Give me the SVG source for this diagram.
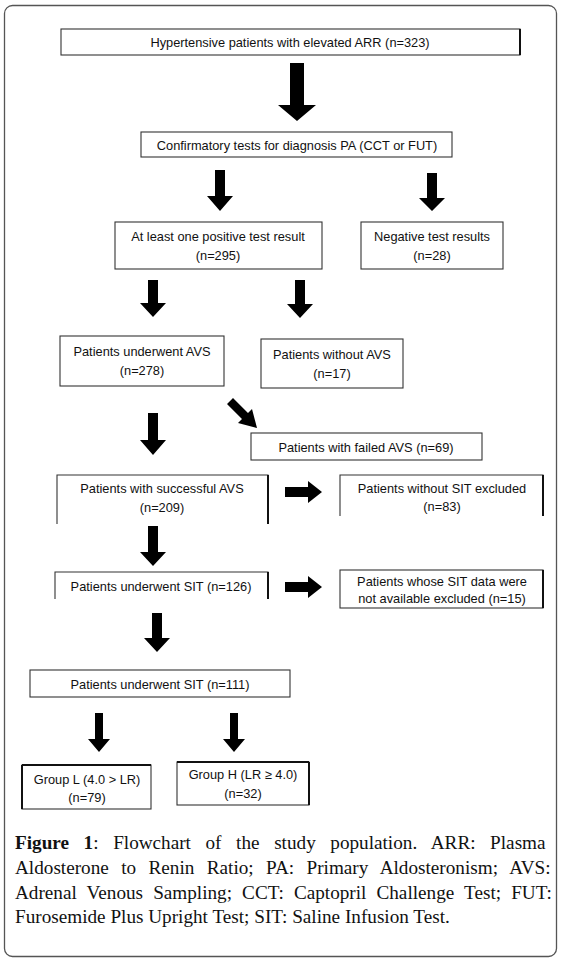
<svg xmlns="http://www.w3.org/2000/svg" width="563" height="963" viewBox="0 0 563 963">
<defs>
<style>
.frame{fill:#fff;stroke:#555;stroke-width:1.3}
.box{fill:#fff;stroke:#333;stroke-width:1.1}
.open{fill:none;stroke:#333;stroke-width:1.1}
.sh{stroke:#111;stroke-width:2;fill:none}
.t{font-family:"Liberation Sans","Arial",sans-serif;font-size:12.8px;fill:#111;text-anchor:middle}
.arr{fill:#000}
.cap{font-family:"Liberation Serif","Times New Roman",serif;font-size:19.2px;fill:#111}
</style>
</defs>
<rect class="frame" x="4.5" y="5.5" width="552" height="951" rx="8"/>

<g id="n1"><rect class="box" x="61" y="29" width="459" height="26"/><line class="sh" x1="520" y1="29" x2="520" y2="55"/><text class="t" x="290" y="47">Hypertensive patients with elevated ARR (n=323)</text></g>
<g id="n2"><rect class="box" x="141" y="132" width="311" height="25"/><text class="t" x="297" y="149.5">Confirmatory tests for diagnosis PA (CCT or FUT)</text></g>
<g id="n3"><rect class="box" x="115" y="222" width="207" height="47"/><text class="t" x="218" y="241">At least one positive test result</text><text class="t" x="218" y="260">(n=295)</text></g>
<g id="n4"><rect class="box" x="361" y="222" width="142" height="47"/><text class="t" x="432" y="241">Negative test results</text><text class="t" x="432" y="260">(n=28)</text></g>
<g id="n5"><rect class="box" x="60" y="336" width="164" height="50"/><text class="t" x="142" y="356">Patients underwent AVS</text><text class="t" x="142" y="375">(n=278)</text></g>
<g id="n6"><rect class="box" x="261" y="339" width="142" height="49"/><text class="t" x="332" y="359">Patients without AVS</text><text class="t" x="332" y="378">(n=17)</text></g>
<g id="n7"><rect class="box" x="251" y="433" width="231" height="27"/><text class="t" x="366" y="451.5">Patients with failed AVS (n=69)</text></g>
<g id="n8"><path class="open" d="M57,524 V475 H268 V524"/><line class="sh" x1="268" y1="475" x2="268" y2="524"/><text class="t" x="162" y="493">Patients with successful AVS</text><text class="t" x="162" y="512">(n=209)</text></g>
<g id="n9"><path class="open" d="M340,516 V475 H543 V516"/><line class="sh" x1="543" y1="475" x2="543" y2="516"/><text class="t" x="442" y="493">Patients without SIT excluded</text><text class="t" x="442" y="511">(n=83)</text></g>
<g id="n10"><path class="open" d="M55,599 V572 H268 V599"/><line class="sh" x1="268" y1="572" x2="268" y2="599"/><text class="t" x="161" y="591">Patients underwent SIT (n=126)</text></g>
<g id="n11"><rect class="box" x="340" y="570" width="203" height="38"/><line class="sh" x1="543" y1="570" x2="543" y2="608"/><text class="t" x="442" y="586">Patients whose SIT data were</text><text class="t" x="442" y="603">not available excluded (n=15)</text></g>
<g id="n12"><rect class="box" x="30" y="670" width="260" height="27"/><text class="t" x="160" y="688.5">Patients underwent SIT (n=111)</text></g>
<g id="n13"><rect class="box" x="22" y="765" width="129" height="44"/><line class="sh" x1="22" y1="765" x2="151" y2="765"/><line class="sh" x1="22" y1="765" x2="22" y2="809"/><text class="t" x="87" y="784">Group L (4.0 &gt; LR)</text><text class="t" x="87" y="802">(n=79)</text></g>
<g id="n14"><rect class="box" x="177" y="762" width="132" height="43"/><line class="sh" x1="177" y1="762" x2="309" y2="762"/><line class="sh" x1="309" y1="762" x2="309" y2="805"/><text class="t" x="243" y="779">Group H (LR ≥  4.0)</text><text class="t" x="243" y="798">(n=32)</text></g>

<g id="connectors">
<path class="arr" d="M290,63 H304 V105 H316 L297,121 L278,105 H290 Z"/>
<path class="arr" d="M215,170 H225 V196 H233 L220,211 L207,196 H215 Z"/>
<path class="arr" d="M427,173 H437 V198 H445 L432,211 L419,198 H427 Z"/>
<path class="arr" d="M148,280 H158 V303 H166 L153,317 L140,303 H148 Z"/>
<path class="arr" d="M295,280 H305 V304 H313 L300,318 L287,304 H295 Z"/>
<path class="arr" d="M148,413 H158 V440 H166 L153,455 L140,440 H148 Z"/>
<path class="arr" d="M148,526 H158 V552 H166 L153,566 L140,552 H148 Z"/>
<path class="arr" d="M152,613 H162 V638 H170 L157,652 L144,638 H152 Z"/>
<path class="arr" d="M95,713 H103 V739 H110 L99,752 L88,739 H95 Z"/>
<path class="arr" d="M230,713 H238 V739 H245 L234,752 L223,739 H230 Z"/>
<path class="arr" d="M285,487 H308 V481 L322,492 L308,503 V497 H285 Z"/>
<path class="arr" d="M285,582 H308 V576 L322,587 L308,598 V592 H285 Z"/>
<path class="arr" d="M233,398 L248,413 L252,409 L257,428 L238,423 L242,419 L227,404 Z"/>
</g>

<g id="caption">
<text class="cap" x="15" y="849" word-spacing="9.8"><tspan font-weight="bold">Figure 1</tspan>: Flowchart of the study population. ARR: Plasma</text>
<text class="cap" x="15" y="874" word-spacing="7.6">Aldosterone to Renin Ratio; PA: Primary Aldosteronism; AVS:</text>
<text class="cap" x="15" y="899" word-spacing="5.3">Adrenal Venous Sampling; CCT: Captopril Challenge Test; FUT:</text>
<text class="cap" x="15" y="923">Furosemide Plus Upright Test; SIT: Saline Infusion Test.</text>
</g>
</svg>
